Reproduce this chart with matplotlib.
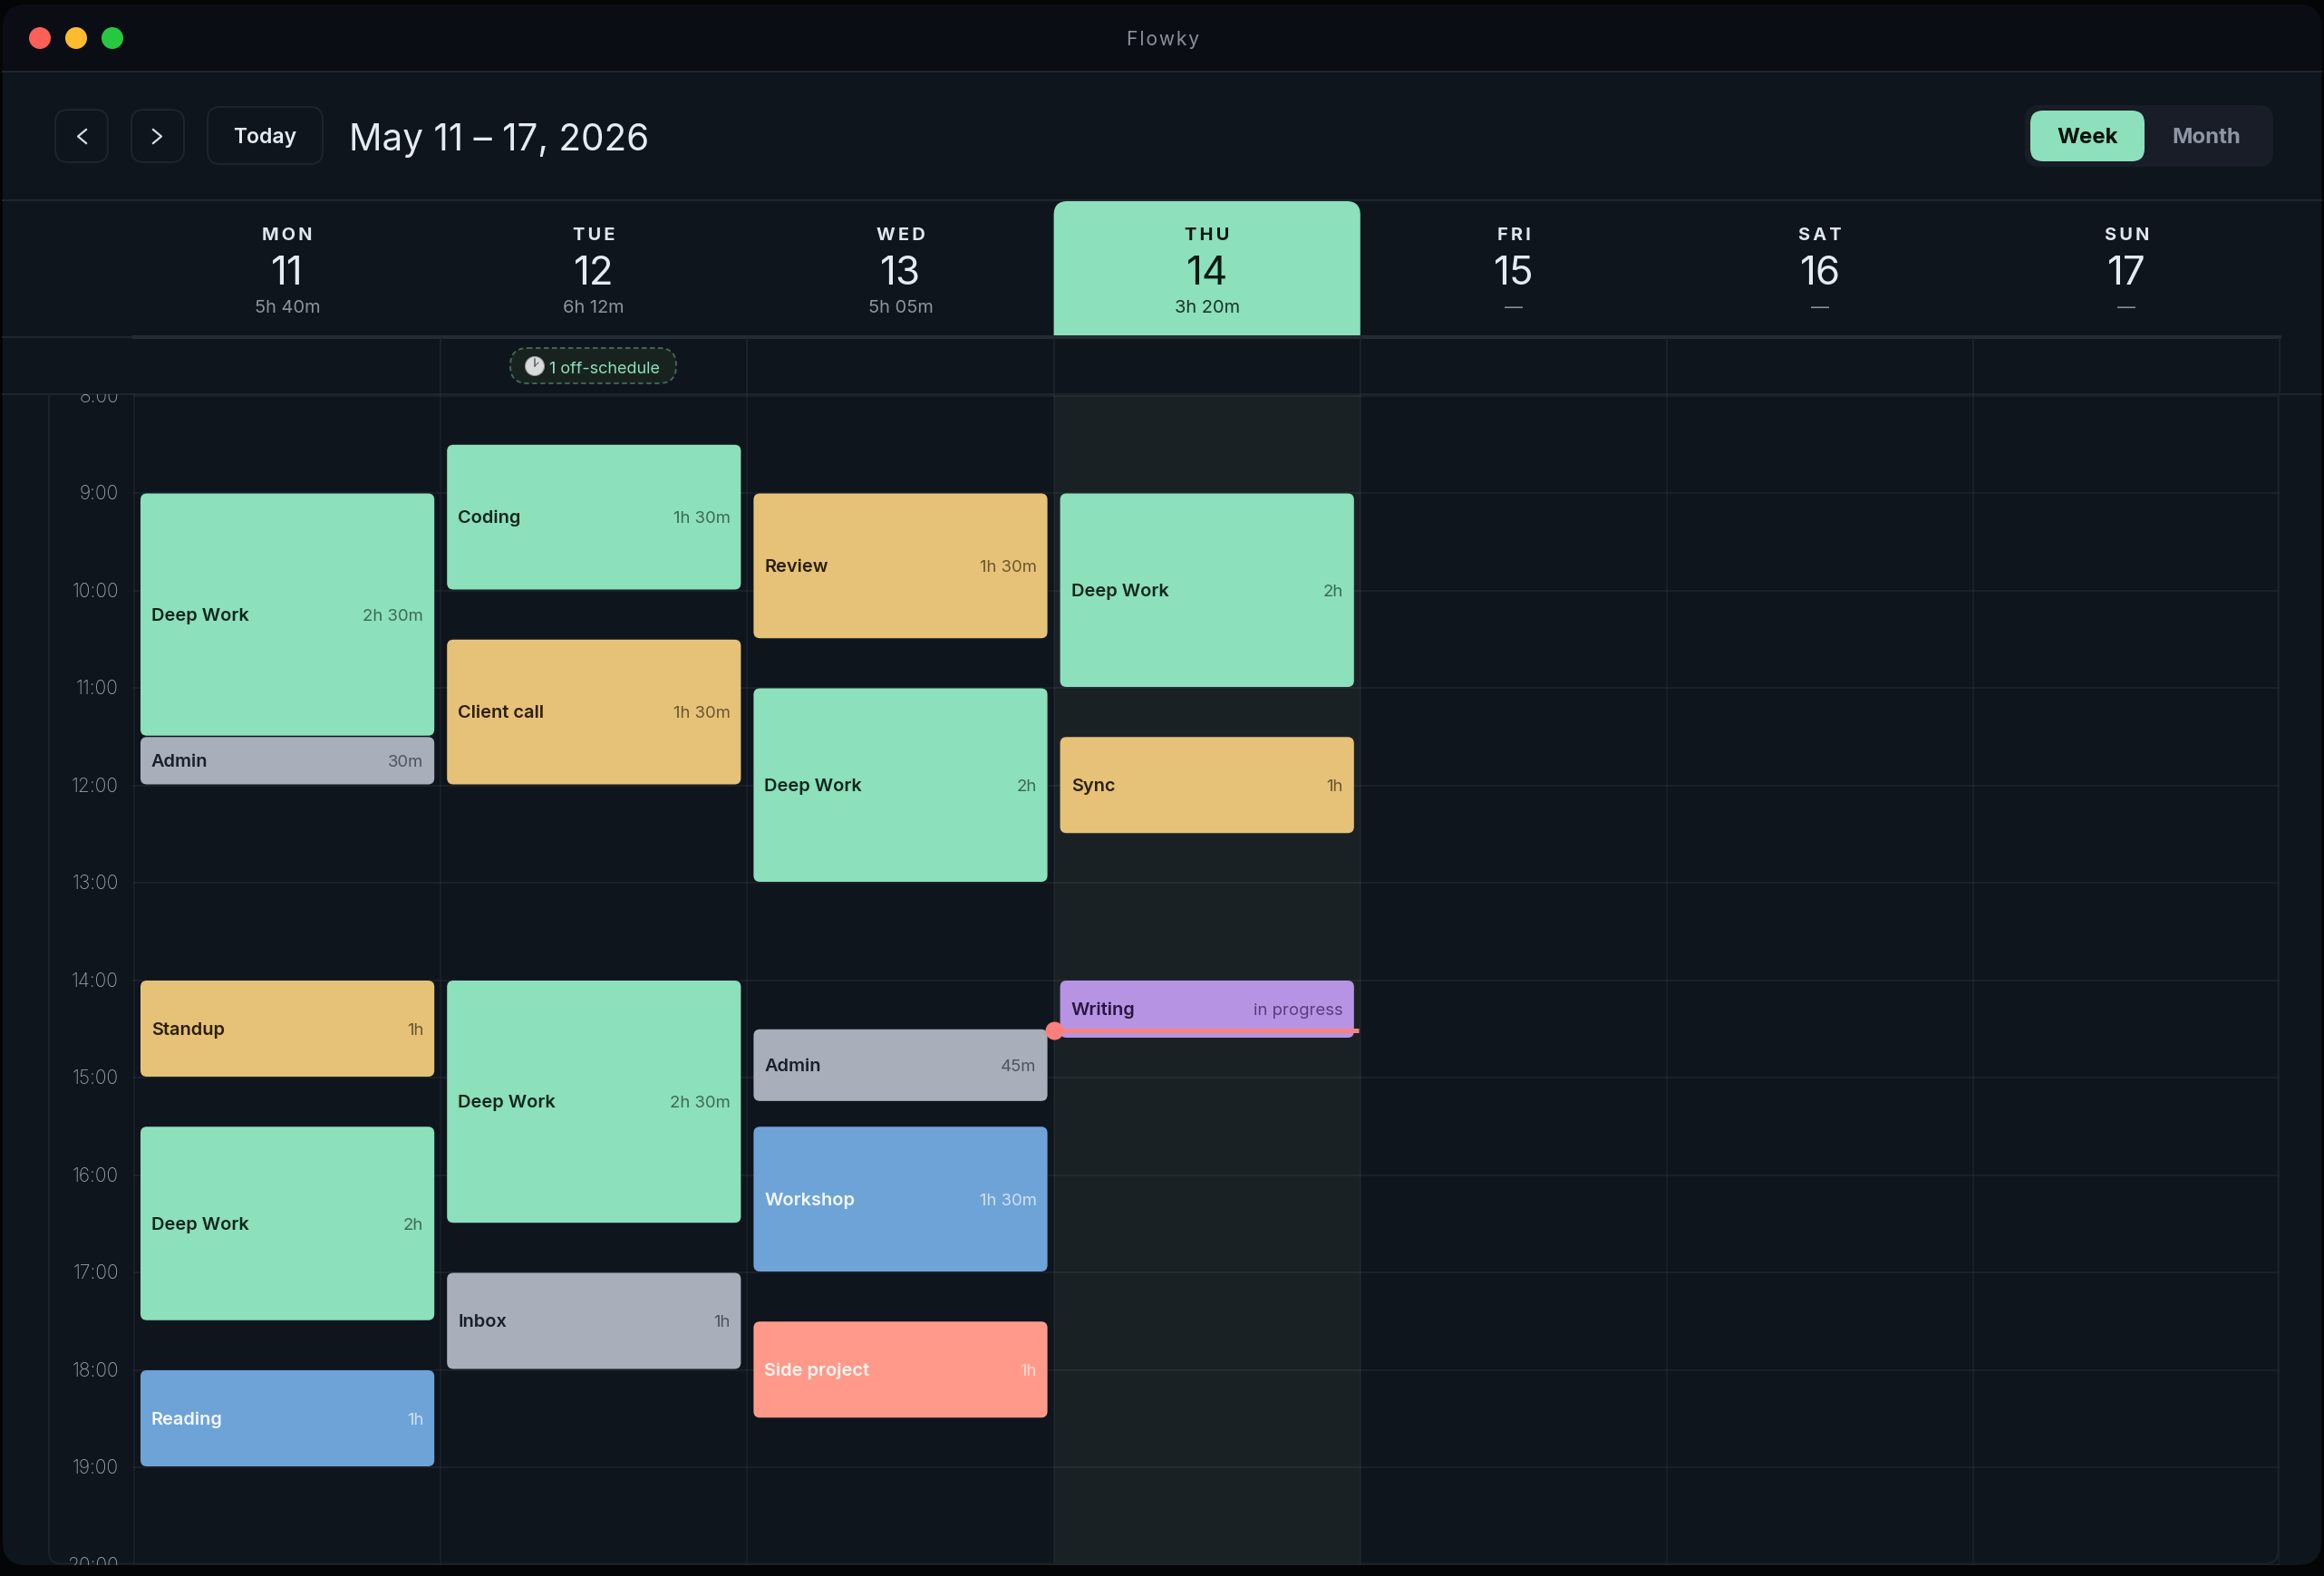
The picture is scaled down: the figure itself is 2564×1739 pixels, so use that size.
import matplotlib
matplotlib.use('Agg')
import matplotlib.pyplot as plt
from matplotlib.patches import FancyBboxPatch, Rectangle, Circle

plt.rcParams['font.family'] = ['Inter', 'DejaVu Sans']

W, H = 2564, 1740

# calendar data
days = ['MON', 'TUE', 'WED', 'THU', 'FRI', 'SAT', 'SUN']
dates = ['11', '12', '13', '14', '15', '16', '17']
totals = ['5h 40m', '6h 12m', '5h 05m', '3h 20m', '—', '—', '—']
hours = list(range(8, 21))
today = 3
now_hour = 14.51

ev_day = [0, 0, 0, 0, 0,
          1, 1, 1, 1,
          2, 2, 2, 2, 2,
          3, 3, 3]
ev_start = [9, 11.5, 14, 15.5, 18,
            8.5, 10.5, 14, 17,
            9, 11, 14.5, 15.5, 17.5,
            9, 11.5, 14]
ev_len = [2.5, 0.5, 1, 2, 1,
          1.5, 1.5, 2.5, 1,
          1.5, 2, 0.75, 1.5, 1,
          2, 1, 0.6]
ev_name = ['Deep Work', 'Admin', 'Standup', 'Deep Work', 'Reading',
           'Coding', 'Client call', 'Deep Work', 'Inbox',
           'Review', 'Deep Work', 'Admin', 'Workshop', 'Side project',
           'Deep Work', 'Sync', 'Writing']
ev_time = ['2h 30m', '30m', '1h', '2h', '1h',
           '1h 30m', '1h 30m', '2h 30m', '1h',
           '1h 30m', '2h', '45m', '1h 30m', '1h',
           '2h', '1h', 'in progress']
ev_kind = ['green', 'grey', 'yellow', 'green', 'blue',
           'green', 'yellow', 'green', 'grey',
           'yellow', 'green', 'grey', 'blue', 'coral',
           'green', 'yellow', 'purple']

# label, duration colours
kinds = {
    'green': ('#10261c', '#3c6a55'),
    'yellow': ('#2a1f0a', '#6b5630'),
    'grey': ('#1a2029', '#4f5560'),
    'blue': ('#f4f8fd', '#cfe2f5'),
    'coral': ('#fff6f4', '#ffdcd6'),
    'purple': ('#2b1540', '#5b3c7d'),
}
fills = {'green': '#8ce0bb', 'yellow': '#e6c278', 'grey': '#a8aeba',
         'blue': '#6ea3d8', 'coral': '#ff9a8a', 'purple': '#b794e3'}

BG = '#0f151d'
BAR = '#0a0d14'
LINE = '#1f252e'
GREEN = '#8ce0bb'

COL0, COLW = 148, 338.2
HOUR9, HOURH = 545.5, 107.5
CAL_L, CAL_R, CAL_T, CAL_B = 53, 2515, 436, 1728


def px(n):
    return n * 72 / 100


def col_x(d):
    return COL0 + d * COLW


def spaced(s, sp='\u2009'):
    return sp.join(s)


fig = plt.figure(figsize=(W / 100, H / 100), dpi=100, facecolor='#040506')

# window chrome, in pixels
ax = fig.add_axes([0, 0, 1, 1])
ax.set_xlim(0, W)
ax.set_ylim(H - 1, -1)
ax.axis('off')


def box(a, x0, y0, x1, y1, r, fc='none', ec='none', lw=1, aspect=1, **kw):
    p = FancyBboxPatch((x0, y0), x1 - x0, y1 - y0,
                       boxstyle=f'round,pad=0,rounding_size={r}',
                       fc=fc, ec=ec, lw=px(lw), mutation_aspect=aspect, **kw)
    a.add_patch(p)
    return p


window = box(ax, 3, 5, 2561, 1727, 26, fc=BG)
titlebar = ax.add_patch(Rectangle((0, 0), W, 79, fc=BAR, ec='none'))
titlebar.set_clip_path(window)
ax.plot([3, 2561], [79, 79], color=LINE, lw=px(2))
ax.plot([3, 2561], [221, 221], color=LINE, lw=px(2))

for x, c in zip([44, 84, 124], ['#fb5f57', '#fdbb2e', '#27c83f']):
    ax.add_patch(Circle((x, 42), 12, fc=c, ec='none'))
ax.text(1283, 49, spaced('Flowky', '\u200a'), ha='center', va='baseline',
        fontsize=px(21), color='#8a909a')

# toolbar
box(ax, 61, 121, 119, 179, 14, ec='#1e242d', lw=2)
box(ax, 145, 121, 203, 179, 14, ec='#1e242d', lw=2)
box(ax, 229, 118, 356, 181, 14, ec='#1e242d', lw=2)
ax.plot([95, 86, 95], [143, 150.5, 158], color='#d8dde6', lw=px(2.2))
ax.plot([169, 178, 169], [143, 150.5, 158], color='#d8dde6', lw=px(2.2))
ax.text(292, 157, 'Today', ha='center', va='baseline', fontsize=px(23),
        fontweight='semibold', color='#e6ebf3')
ax.text(385, 165, 'May 11 – 17, 2026', ha='left', va='baseline', fontsize=px(40.5),
        color='#e6ebf3')

box(ax, 2234, 116, 2508, 184, 16, fc='#181d28')
box(ax, 2240, 122, 2366, 178, 14, fc=GREEN)
ax.text(2303, 157, 'Week', ha='center', va='baseline', fontsize=px(24),
        fontweight='bold', color='#08100c')
ax.text(2434, 157, 'Month', ha='center', va='baseline', fontsize=px(24),
        fontweight='bold', color='#8f95a3')

# day header
ax.plot([3, 148], [372, 372], color=LINE, lw=px(2))
ax.plot([148, CAL_R], [372, 372], color='#252b35', lw=px(4))
ax.plot([3, 2561], [435, 435], color=LINE, lw=px(2))
for i in range(1, 8):
    ax.plot([col_x(i)] * 2, [373, 435], color=LINE, lw=px(1.5))

top = box(ax, col_x(today), 222, col_x(today + 1), 400, 15, fc=GREEN)
top.set_clip_path(Rectangle((0, 0), W, 372, transform=ax.transData))

for i, d in enumerate(days):
    cx = col_x(i + 0.5)
    is_today = i == today
    ax.text(cx, 264, spaced(d), ha='center', va='baseline', fontsize=px(20),
            fontweight='bold', color='#0b1a13' if is_today else '#e0e5ee')
    ax.text(cx, 313, dates[i], ha='center', va='baseline', fontsize=px(44),
            color='#0b1a13' if is_today else '#e6ebf3')
    ax.text(cx, 344, totals[i], ha='center', va='baseline', fontsize=px(20),
            color='#17352a' if is_today else '#8d939e')

# off-schedule pill
box(ax, 563, 384, 746, 423, 19, fc='#18231f', ec='#456b5d', lw=1.8, linestyle=(0, (3, 2)))
ax.add_patch(Circle((590, 404), 10.5, fc='#d9dcdc', ec='#8f9593', lw=px(1)))
ax.plot([590, 590], [396, 404], color='#555a5a', lw=px(1.5))
ax.plot([590, 594], [404, 400], color='#555a5a', lw=px(1))
ax.text(606, 410.5, '1 off-schedule', ha='left', va='baseline', fontsize=px(18),
        color=GREEN)

# calendar grid, x in days and y in hours
cal = fig.add_axes([CAL_L / W, 1 - CAL_B / H, (CAL_R - CAL_L) / W, (CAL_B - CAL_T) / H])
cal.patch.set_alpha(0)
cal.set_xlim((CAL_L - COL0) / COLW, (CAL_R - COL0) / COLW)
cal.set_ylim(9 + (CAL_B - HOUR9) / HOURH, 9 + (CAL_T - HOUR9) / HOURH)
cal.axis('off')

day_px = 1 / COLW
hour_px = 1 / HOURH
aspect = COLW / HOURH

cal.axvspan(today, today + 1, color='#1a2125', lw=0, zorder=0)
for h in hours:
    cal.plot([0, 7], [h, h], color='white', alpha=0.05, lw=px(2), zorder=1)
    cal.text(-17 * day_px, h + 6 * hour_px, f'{h}:00', ha='right', va='baseline',
             fontsize=px(21), color='#9aa0aa', clip_on=True, fontweight='light')
for i in range(8):
    cal.plot([i, i], [7, 21], color='white', alpha=0.04, lw=px(2), zorder=1)

# outer frame with round bottom corners
frame = box(cal, (CAL_L + 1 - COL0) * day_px, 7, (CAL_R - 1.5 - COL0) * day_px,
            9 + (CAL_B - 1.5 - HOUR9) * hour_px, 14 * day_px,
            ec='#1c222a', lw=2, aspect=aspect, zorder=2)

for d, s, n, name, t, k in zip(ev_day, ev_start, ev_len, ev_name, ev_time, ev_kind):
    c1, c2 = kinds[k]
    x0 = d + 7 * day_px
    x1 = d + 1 - 7 * day_px
    box(cal, x0, s, x1, s + n - 1.5 * hour_px, 7 * day_px, fc=fills[k],
        aspect=aspect, zorder=3)
    mid = s + (n - 3 * hour_px) / 2 + 6.5 * hour_px
    cal.text(x0 + 12 * day_px, mid, name, ha='left', va='baseline', fontsize=px(20),
             fontweight='semibold', color=c1, zorder=4)
    cal.text(x1 - 12 * day_px, mid, t, ha='right', va='baseline', fontsize=px(18.5),
             color=c2, zorder=4)

# now marker
cal.plot([today, today + 1 - 2 * day_px], [now_hour, now_hour], color='#f8827f', lw=px(5),
         solid_capstyle='butt', zorder=5)
cal.plot([today], [now_hour], 'o', color='#fb7f7c', ms=px(20), mew=0, zorder=6)

fig.savefig('out.png', dpi=100, facecolor=fig.get_facecolor())
